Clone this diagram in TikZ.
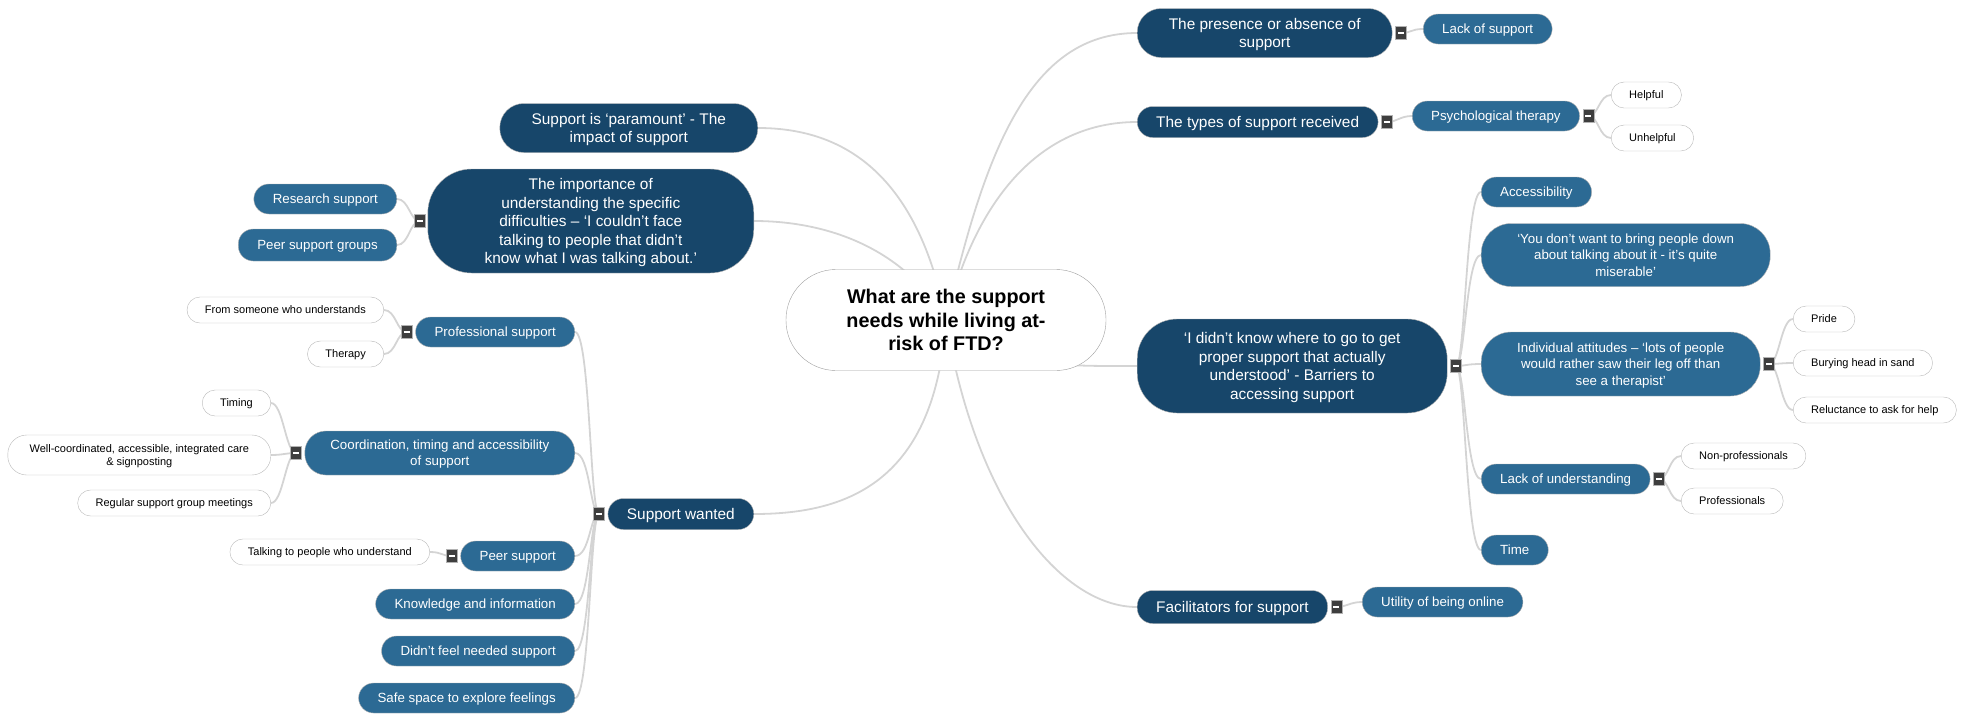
\documentclass[tikz,border=0pt]{standalone}
\usepackage{fontspec}
\setmainfont{Liberation Sans}
\usetikzlibrary{positioning, backgrounds}

\definecolor{topicblue}{HTML}{17466A}
\definecolor{subblue}{HTML}{2C6A94}
\definecolor{linkgray}{HTML}{D4D4D4}
\definecolor{foldgray}{HTML}{3E3E3E}

\begin{document}
\begin{tikzpicture}[x=1pt, y=-1pt, every node/.style={align=center},
        hub/.style={draw=gray!75, fill=white, rounded corners=50pt, minimum width=320pt, text depth=0pt,
            minimum height=101pt, font=\fontsize{19.8}{23.8}\selectfont\bfseries},
        topic/.style={draw=gray!60, fill=topicblue, text=white, rounded corners=15.5pt, text depth=0pt,
            minimum height=31pt, inner xsep=19pt, inner ysep=2pt, font=\fontsize{15.4}{18.5}\selectfont},
        subtopic/.style={draw=gray!60, fill=subblue, text=white, rounded corners=15pt, text depth=0pt,
            minimum height=30pt, inner xsep=19pt, inner ysep=2pt, font=\fontsize{13.3}{16.2}\selectfont},
        leaf/.style={draw=gray!55, fill=white, rounded corners=13pt, minimum height=26pt, text depth=0pt,
            inner xsep=18pt, inner ysep=2pt, font=\fontsize{11}{13.3}\selectfont},
        fold/.style={draw=gray!60, fill=foldgray, minimum width=11pt, minimum height=13pt, inner sep=0pt,
            path picture={\draw[white, line width=1.7pt] ([xshift=-3pt]path picture bounding box.center)
                -- ([xshift=3pt]path picture bounding box.center);}},
        link/.style={draw=linkgray, line width=1.8pt}]
        \useasboundingbox (0,0) rectangle (1970,713);

        % Central question
        \node (q) [hub] at (946,320) {What are the support\\needs while living at-\\risk of FTD?};

        % Left: impact and understanding
        \node (para) [topic, anchor=east, minimum width=258pt, minimum height=49pt, rounded corners=24pt]
            at (758,128) {Support is `paramount' - The\\impact of support};
        \node (imp) [topic, anchor=east, minimum width=326pt, minimum height=104pt, rounded corners=44pt]
            at (754,221) {The importance of\\understanding the specific\\difficulties -- `I couldn't face\\talking to people that didn't\\know what I was talking about.'};
        \node (impf) [fold, left=2pt of imp] {};
        \node (research) [subtopic, anchor=east] at (397,199) {Research support};
        \node (peergrp) [subtopic, anchor=east, minimum height=32pt] at (397,245) {Peer support groups};

        % Left: support wanted
        \node (want) [topic, anchor=east] at (754,514) {Support wanted};
        \node (wantf) [fold, left=3pt of want] {};
        \node (prof) [subtopic, anchor=east] at (575,332) {Professional support};
        \node (proff) [fold, left=3pt of prof] {};
        \node (someone) [leaf, anchor=east] at (384,310) {From someone who understands};
        \node (therapy) [leaf, anchor=east] at (384,354) {Therapy};
        \node (coord) [subtopic, anchor=east, minimum width=270pt, minimum height=44pt, rounded corners=21pt]
            at (575,453) {Coordination, timing and accessibility\\of support};
        \node (coordf) [fold, left=3pt of coord] {};
        \node (timing) [leaf, anchor=east] at (271,403) {Timing};
        \node (care) [leaf, anchor=east, minimum width=263pt, minimum height=40pt, rounded corners=19pt]
            at (271,455) {Well-coordinated, accessible, integrated care\\\& signposting};
        \node (meet) [leaf, anchor=east] at (271,503) {Regular support group meetings};
        \node (peer) [subtopic, anchor=east] at (575,556) {Peer support};
        \node (peerf) [fold, left=3pt of peer] {};
        \node (talk) [leaf, anchor=east] at (430,552) {Talking to people who understand};
        \node (know) [subtopic, anchor=east] at (575,604) {Knowledge and information};
        \node (notneed) [subtopic, anchor=east] at (575,651) {Didn't feel needed support};
        \node (safe) [subtopic, anchor=east] at (575,698) {Safe space to explore feelings};

        % Right: presence and types
        \node (pres) [topic, anchor=west, minimum width=255pt, minimum height=49pt, rounded corners=24pt]
            at (1137,33) {The presence or absence of\\support};
        \node (presf) [fold, right=3pt of pres] {};
        \node (lack) [subtopic, anchor=west] at (1423,29) {Lack of support};
        \node (types) [topic, anchor=west] at (1137,122) {The types of support received};
        \node (typesf) [fold, right=3pt of types] {};
        \node (psych) [subtopic, anchor=west] at (1412,116) {Psychological therapy};
        \node (psychf) [fold, right=3pt of psych] {};
        \node (helpful) [leaf, anchor=west] at (1611,95) {Helpful};
        \node (unhelpful) [leaf, anchor=west] at (1611,138) {Unhelpful};

        % Right: barriers
        \node (barr) [topic, anchor=west, minimum width=310pt, minimum height=94pt, rounded corners=40pt]
            at (1137,366) {`I didn't know where to go to get\\proper support that actually\\understood' - Barriers to\\accessing support};
        \node (barrf) [fold, right=3pt of barr] {};
        \node (access) [subtopic, anchor=west] at (1481,192) {Accessibility};
        \node (down) [subtopic, anchor=west, minimum width=289pt, minimum height=63pt, rounded corners=30pt]
            at (1481,255) {`You don't want to bring people down\\about talking about it - it's quite\\miserable'};
        \node (attit) [subtopic, anchor=west, minimum width=279pt, minimum height=64pt, rounded corners=30pt]
            at (1481,364) {Individual attitudes -- `lots of people\\would rather saw their leg off than\\see a therapist'};
        \node (attitf) [fold, right=3pt of attit] {};
        \node (pride) [leaf, anchor=west] at (1793,319) {Pride};
        \node (sand) [leaf, anchor=west] at (1793,363) {Burying head in sand};
        \node (reluct) [leaf, anchor=west] at (1793,410) {Reluctance to ask for help};
        \node (underst) [subtopic, anchor=west] at (1481,479) {Lack of understanding};
        \node (understf) [fold, right=3pt of underst] {};
        \node (nonprof) [leaf, anchor=west] at (1681,456) {Non-professionals};
        \node (profs) [leaf, anchor=west] at (1681,501) {Professionals};
        \node (time) [subtopic, anchor=west] at (1481,550) {Time};

        % Right: facilitators
        \node (facil) [topic, anchor=west, minimum height=33pt] at (1137,607) {Facilitators for support};
        \node (facilf) [fold, right=3pt of facil] {};
        \node (online) [subtopic, anchor=west] at (1362,602) {Utility of being online};

        \begin{scope}[on background layer]
            % Question to main topics
            \draw[link] (q.center) .. controls (915,160) and (830,128) .. (para.east);
            \draw[link] (q.center) .. controls (905,250) and (830,221) .. (imp.east);
            \draw[link] (q.center) .. controls (935,480) and (850,514) .. (want.east);
            \draw[link] (q.center) .. controls (985,150) and (1030,33) .. (pres.west);
            \draw[link] (q.center) .. controls (975,200) and (1040,122) .. (types.west);
            \draw[link] (q.center) .. controls (1000,368) and (1060,366) .. (barr.west);
            \draw[link] (q.center) .. controls (975,500) and (1060,607) .. (facil.west);

            % Left branches
            \draw[link] (impf.center) .. controls +(-10,0) and +(12,0) .. (research.east);
            \draw[link] (impf.center) .. controls +(-10,0) and +(12,0) .. (peergrp.east);
            \draw[link] (wantf.center) .. controls +(-9,0) and +(15,0) .. (prof.east);
            \draw[link] (wantf.center) .. controls +(-9,0) and +(15,0) .. (coord.east);
            \draw[link] (wantf.center) .. controls +(-9,0) and +(15,0) .. (peer.east);
            \draw[link] (wantf.center) .. controls +(-9,0) and +(15,0) .. (know.east);
            \draw[link] (wantf.center) .. controls +(-9,0) and +(15,0) .. (notneed.east);
            \draw[link] (wantf.center) .. controls +(-9,0) and +(15,0) .. (safe.east);
            \draw[link] (proff.center) .. controls +(-10,0) and +(12,0) .. (someone.east);
            \draw[link] (proff.center) .. controls +(-10,0) and +(12,0) .. (therapy.east);
            \draw[link] (coordf.center) .. controls +(-10,0) and +(12,0) .. (timing.east);
            \draw[link] (coordf.center) .. controls +(-10,0) and +(12,0) .. (care.east);
            \draw[link] (coordf.center) .. controls +(-10,0) and +(12,0) .. (meet.east);
            \draw[link] (peerf.center) .. controls +(-10,0) and +(12,0) .. (talk.east);

            % Right branches
            \draw[link] (presf.center) .. controls +(10,0) and +(-12,0) .. (lack.west);
            \draw[link] (typesf.center) .. controls +(10,0) and +(-12,0) .. (psych.west);
            \draw[link] (psychf.center) .. controls +(10,0) and +(-12,0) .. (helpful.west);
            \draw[link] (psychf.center) .. controls +(10,0) and +(-12,0) .. (unhelpful.west);
            \draw[link] (barrf.center) .. controls +(9,0) and +(-15,0) .. (access.west);
            \draw[link] (barrf.center) .. controls +(9,0) and +(-15,0) .. (down.west);
            \draw[link] (barrf.center) .. controls +(9,0) and +(-15,0) .. (attit.west);
            \draw[link] (barrf.center) .. controls +(9,0) and +(-15,0) .. (underst.west);
            \draw[link] (barrf.center) .. controls +(9,0) and +(-15,0) .. (time.west);
            \draw[link] (attitf.center) .. controls +(10,0) and +(-12,0) .. (pride.west);
            \draw[link] (attitf.center) .. controls +(10,0) and +(-12,0) .. (sand.west);
            \draw[link] (attitf.center) .. controls +(10,0) and +(-12,0) .. (reluct.west);
            \draw[link] (understf.center) .. controls +(10,0) and +(-12,0) .. (nonprof.west);
            \draw[link] (understf.center) .. controls +(10,0) and +(-12,0) .. (profs.west);
            \draw[link] (facilf.center) .. controls +(10,0) and +(-12,0) .. (online.west);
        \end{scope}
    \end{tikzpicture}
\end{document}
